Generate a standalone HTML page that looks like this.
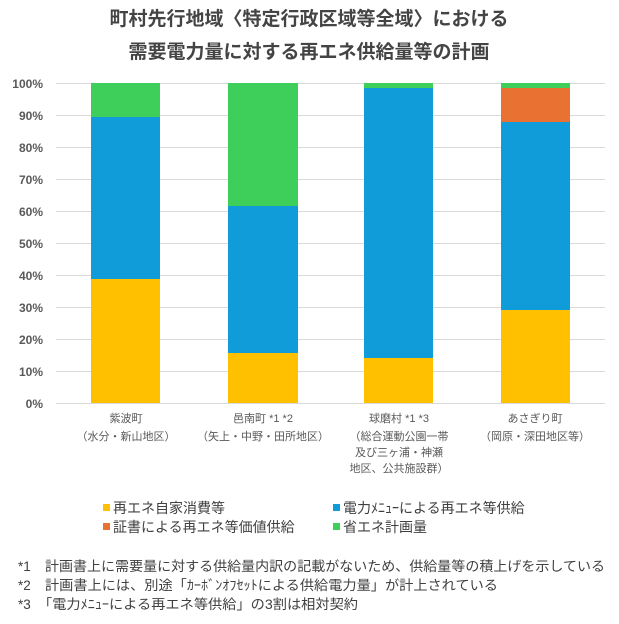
<!DOCTYPE html>
<html><head><meta charset="utf-8"><style>
body{margin:0;background:#fff;}
svg text{font-family:"Liberation Sans","Noto Sans CJK JP",sans-serif;}
</style></head><body>
<svg width="619" height="619" viewBox="0 0 619 619" xmlns="http://www.w3.org/2000/svg">
<rect width="619" height="619" fill="#fff"/>
<g fill="#444" font-size="19" font-weight="bold" text-anchor="middle">
<text x="309" y="25">町村先行地域〈特定行政区域等全域〉における</text>
<text x="309" y="58">需要電力量に対する再エネ供給量等の計画</text>
</g>
<g stroke="#d9d9d9" stroke-width="1">
<line x1="56" x2="605" y1="83.5" y2="83.5"/><line x1="56" x2="605" y1="115.5" y2="115.5"/>
<line x1="56" x2="605" y1="147.5" y2="147.5"/><line x1="56" x2="605" y1="179.5" y2="179.5"/>
<line x1="56" x2="605" y1="211.5" y2="211.5"/><line x1="56" x2="605" y1="243.5" y2="243.5"/>
<line x1="56" x2="605" y1="275.5" y2="275.5"/><line x1="56" x2="605" y1="307.5" y2="307.5"/>
<line x1="56" x2="605" y1="339.5" y2="339.5"/><line x1="56" x2="605" y1="371.5" y2="371.5"/>
<line x1="56" x2="605" y1="403.5" y2="403.5"/>
</g>
<g fill="#595959" font-size="12" font-weight="bold" text-anchor="end">
<text x="43" y="88">100%</text><text x="43" y="120">90%</text><text x="43" y="152">80%</text>
<text x="43" y="184">70%</text><text x="43" y="216">60%</text><text x="43" y="248">50%</text>
<text x="43" y="280">40%</text><text x="43" y="312">30%</text><text x="43" y="344">20%</text>
<text x="43" y="376">10%</text><text x="43" y="408">0%</text>
</g>
<rect x="91" y="83" width="69" height="34" fill="#3ecf5a"/>
<rect x="91" y="117" width="69" height="162" fill="#109cd8"/>
<rect x="91" y="279" width="69" height="124" fill="#ffc000"/>
<rect x="228" y="83" width="70" height="123" fill="#3ecf5a"/>
<rect x="228" y="206" width="70" height="147" fill="#109cd8"/>
<rect x="228" y="353" width="70" height="50" fill="#ffc000"/>
<rect x="364" y="83" width="69" height="5" fill="#3ecf5a"/>
<rect x="364" y="88" width="69" height="270" fill="#109cd8"/>
<rect x="364" y="358" width="69" height="45" fill="#ffc000"/>
<rect x="501" y="83" width="69" height="5" fill="#3ecf5a"/>
<rect x="501" y="88" width="69" height="34" fill="#e97132"/>
<rect x="501" y="122" width="69" height="188" fill="#109cd8"/>
<rect x="501" y="310" width="69" height="93" fill="#ffc000"/>
<g fill="#595959" font-size="11" text-anchor="middle">
<text x="126" y="422">紫波町</text><text x="126" y="440">（水分・新山地区）</text>
<text x="263" y="422">邑南町 *1 *2</text><text x="263" y="440">（矢上・中野・田所地区）</text>
<text x="399" y="422">球磨村 *1 *3</text><text x="399" y="440">（総合運動公園一帯</text>
<text x="399" y="456">及び三ヶ浦・神瀬</text><text x="399" y="472">地区、公共施設群）</text>
<text x="535" y="422">あさぎり町</text><text x="535" y="440">（岡原・深田地区等）</text>
</g>
<g font-size="14" fill="#404040">
<rect x="103" y="504" width="7" height="7" fill="#ffc000"/><text x="113" y="513">再エネ自家消費等</text>
<rect x="333" y="504" width="7" height="7" fill="#109cd8"/><text x="343" y="513">電力ﾒﾆｭｰによる再エネ等供給</text>
<rect x="103" y="523" width="7" height="7" fill="#e97132"/><text x="113" y="532">証書による再エネ等価値供給</text>
<rect x="333" y="523" width="7" height="7" fill="#3ecf5a"/><text x="343" y="532">省エネ計画量</text>
</g>
<g font-size="13.5" fill="#404040">
<text x="18" y="571">*1</text><text x="45" y="571" textLength="560" lengthAdjust="spacingAndGlyphs">計画書上に需要量に対する供給量内訳の記載がないため、供給量等の積上げを示している</text>
<text x="18" y="590">*2</text><text x="45" y="590" textLength="453" lengthAdjust="spacingAndGlyphs">計画書上には、別途「ｶｰﾎﾞﾝｵﾌｾｯﾄによる供給電力量」が計上されている</text>
<text x="18" y="609">*3</text><text x="38" y="609" textLength="320" lengthAdjust="spacingAndGlyphs">「電力ﾒﾆｭｰによる再エネ等供給」の3割は相対契約</text>
</g>
</svg>
</body></html>
